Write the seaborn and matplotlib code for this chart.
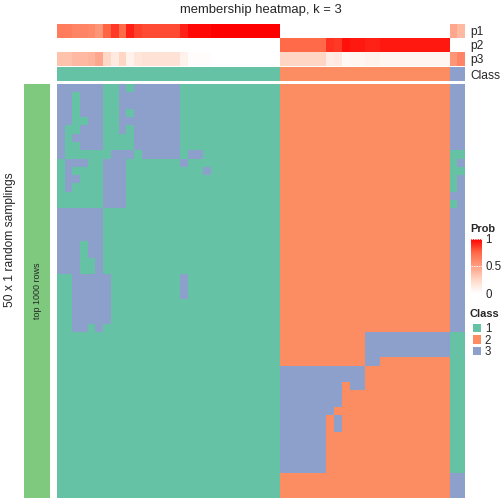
import numpy as np
import matplotlib
matplotlib.use("Agg")
import matplotlib.pyplot as plt
import seaborn as sns
from matplotlib.colors import ListedColormap, LinearSegmentedColormap

# class call of every sample (columns) in each of the 50 random samplings (rows)
# samples 0-28 (class 1 group)
left_rows = [
    "33333311313333331111111111111",
    "33133311333333331111111111111",
    "33133311333333331111111111111",
    "33133311313333331111111111111",
    "33113311333333331111111111111",
    "31133311313333331111111111111",
    "31333311113333331111111111111",
    "31133311113333331111111111111",
    "31111113331333331331111111111",
    "13331133311111113111111111111",
    "13111133311111111113111111111",
    "13311133311111111111111111111",
    "13111133311111111111111111111",
    "11111133311111111111111111111",
    "11111133311111111111111111111",
    "33333311111111111111111111111",
    "33333311111111111111111111111",
    "33333311111111111111111111111",
    "33333311111111111111111111111",
    "33313311111111111111111111111",
    "33313311111111111111111111111",
    "33311311111111111111111111111",
    "33311311111111111111111111111",
    "11333331111111113111111111111",
    "11333331111111113111111111111",
    "11333331111111113111111111111",
    "11333331111111111111111111111",
    "11333331111111111111111111111",
    "11333331111111111111111111111",
    "11331311111111111111111111111",
] + ["11111111111111111111111111111"] * 20

# samples 29-50 (class 2 group)
right_rows = ["2222222222222222222222"] * 30 + [
    "2222222222233333333333",
    "2222222222233333333333",
    "2222222222233333333333",
    "2222222222233222222222",
    "3333333333322222222222",
    "3333333333322222222222",
    "3333333323322222222222",
    "3333333322222222222222",
    "3333333322222222222222",
    "3333333222222222222222",
    "3333332322222222222222",
    "3333332322222222222222",
    "3333332222222222222222",
    "3333332222222222222222",
    "3333332222222222222222",
    "3333332222222222222222",
    "3333332222222222222222",
    "2222222222222222222222",
    "2222222222222222222222",
    "2222222222222222222222",
]

# samples 51-52 (class 3 group)
tail_rows = (["33"] * 8 + ["11", "13", "11", "13", "13", "33", "13"]
             + ["33"] * 15 + ["11"] * 17 + ["33"] * 3)

final_class = "11111111111111111111111111111" + "2222222222222222222222" + "33"

prob_names = ["p1", "p2", "p3"]
class_names = ["1", "2", "3"]

membership = np.array([[int(c) for c in a + b + c3]
                       for a, b, c3 in zip(left_rows, right_rows, tail_rows)])
# membership probability = share of samplings that gave each class
prob = np.array([(membership == k).mean(axis=0) for k in (1, 2, 3)])
final = np.array([[int(c) for c in final_class]])

set2 = ListedColormap(["#66C2A5", "#FC8D62", "#8DA0CB"])
prob_cmap = LinearSegmentedColormap.from_list(
    "prob", [(0, "#FFFFFF"), (0.25, "#FFD7C6"), (0.5, "#FF9E81"),
             (0.75, "#FF6846"), (1, "#FF0000")])

sns.set_theme(style="white")
plt.rcParams['font.family'] = ['Liberation Sans', 'DejaVu Sans']

fig = plt.figure(figsize=(7, 7), dpi=72)
W = H = 504


def box(x0, y0, x1, y1):
    return fig.add_axes([x0 / W, 1 - y1 / H, (x1 - x0) / W, (y1 - y0) / H])


ax_main = box(57, 84, 465, 498)
ax_prob = box(57, 24, 465, 65.7)
ax_cls = box(57, 67.3, 465, 81)
ax_bar = box(24, 84, 50, 498)
ax_cb = box(470.7, 238.7, 482.3, 293.3)
ax_leg = box(470.7, 322, 481.8, 356)

sns.heatmap(membership, cmap=set2, vmin=1, vmax=3, cbar=False,
            xticklabels=False, yticklabels=False, ax=ax_main)

sns.heatmap(prob, cmap=prob_cmap, vmin=0, vmax=1, ax=ax_prob, cbar_ax=ax_cb,
            cbar_kws={"ticks": [0, 0.5, 1]},
            xticklabels=False, yticklabels=prob_names)
ax_prob.yaxis.tick_right()
ax_prob.tick_params(axis="y", length=0, pad=5, labelsize=12, labelrotation=0)

sns.heatmap(final, cmap=set2, vmin=1, vmax=3, cbar=False, ax=ax_cls,
            xticklabels=False, yticklabels=["Class"])
ax_cls.yaxis.tick_right()
ax_cls.tick_params(axis="y", length=0, pad=5, labelsize=12, labelrotation=0)

# Prob legend
ax_cb.tick_params(length=0, pad=3)
ax_cb.set_yticks([0, 0.5, 1])
ax_cb.set_yticklabels(["0", "0.5", "1"], fontsize=11.5)
for s in ax_cb.spines.values():
    s.set_visible(False)
for t in (0.5, 1):
    ax_cb.axhline(t, color="white", lw=0.8, ls=(0, (2, 1)))
fig.text(470 / W, 1 - 229 / H, "Prob", fontsize=11, fontweight="bold",
         ha="left", va="center")

# Class legend
sns.heatmap(np.array([[1], [2], [3]]), cmap=set2, vmin=1, vmax=3, cbar=False,
            linewidths=1.2, linecolor="white", ax=ax_leg,
            xticklabels=False, yticklabels=class_names)
ax_leg.yaxis.tick_right()
ax_leg.tick_params(axis="y", length=0, pad=3)
ax_leg.set_yticklabels(class_names, fontsize=11.5, rotation=0)
fig.text(470 / W, 1 - 314 / H, "Class", fontsize=11, fontweight="bold",
         ha="left", va="center")

# left annotation bar
ax_bar.set_facecolor("#7FC97F")
ax_bar.set_xticks([])
ax_bar.set_yticks([])
for s in ax_bar.spines.values():
    s.set_visible(False)
ax_bar.text(0.5, 0.5, "top 1000 rows", rotation=90, ha="center", va="center",
            fontsize=9, transform=ax_bar.transAxes)

fig.text(261 / W, 1 - 10 / H, "membership heatmap, k = 3", ha="center",
         va="center", fontsize=13)
fig.text(10 / W, 1 - 240 / H, "50 x 1 random samplings", rotation=90,
         ha="center", va="center", fontsize=12)

fig.savefig("out.png", dpi=72, facecolor="white")
